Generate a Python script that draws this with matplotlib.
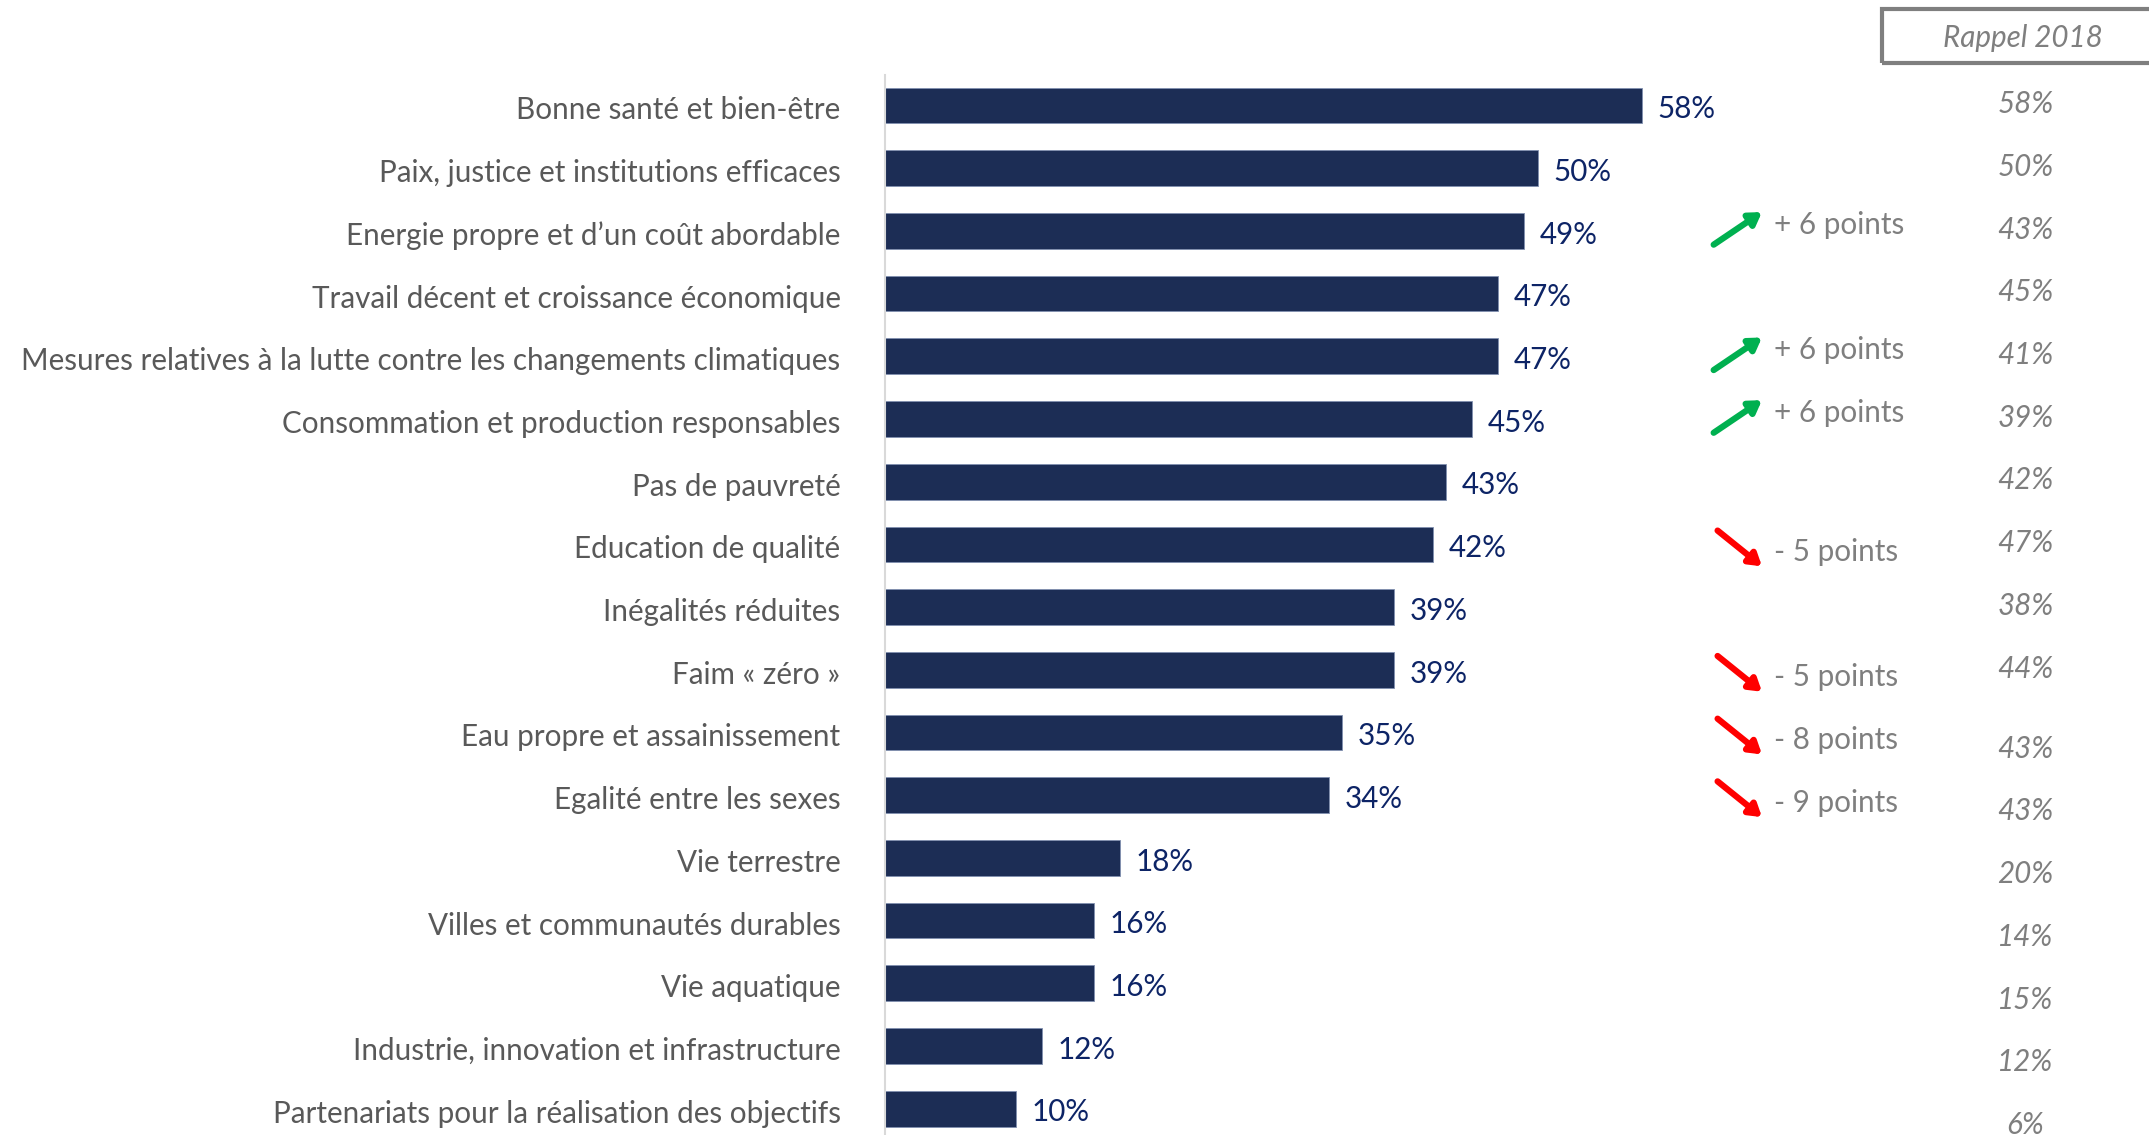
import matplotlib.pyplot as plt
from matplotlib.patches import Rectangle

plt.rcParams['font.family'] = ['Lato', 'DejaVu Sans']

categories = [
    "Bonne santé et bien-être",
    "Paix, justice et institutions efficaces",
    "Energie propre et d\u2019un coût abordable",
    "Travail décent et croissance économique",
    "Mesures relatives à la lutte contre les changements climatiques",
    "Consommation et production responsables",
    "Pas de pauvreté",
    "Education de qualité",
    "Inégalités réduites",
    "Faim « zéro »",
    "Eau propre et assainissement",
    "Egalité entre les sexes",
    "Vie terrestre",
    "Villes et communautés durables",
    "Vie aquatique",
    "Industrie, innovation et infrastructure",
    "Partenariats pour la réalisation des objectifs",
]
values_2019 = [58, 50, 49, 47, 47, 45, 43, 42, 39, 39, 35, 34, 18, 16, 16, 12, 10]
values_2018 = [58, 50, 43, 45, 41, 39, 42, 47, 38, 44, 43, 43, 20, 14, 15, 12, 6]
changes = [None, None, 6, None, 6, 6, None, -5, None, -5, -8, -9,
           None, None, None, None, None]

bar_color = '#1c2d55'
label_gray = '#595959'
note_gray = '#7f7f7f'
value_blue = '#0d2466'
fs = 21.3

W, H = 2149, 1135
fig = plt.figure(figsize=(W / 100, H / 100), dpi=100)
ax = fig.add_axes([885 / W, 0, 1 - 885 / W, 1 - 75 / H])

px_per_pct = 13.05
ax.set_xlim(0, (W - 885) / px_per_pct)
ax.set_ylim(16.42, -0.486)

rows = list(range(len(categories)))
ax.barh(rows, values_2019, height=0.57, color=bar_color,
        edgecolor='#8090b0', linewidth=0.6)

for i, v in enumerate(values_2019):
    ax.text(v + 1.2, i + 0.06, f"{v}%", va='center', ha='left',
            fontsize=fs, color=value_blue)

ax.set_yticks([r + 0.04 for r in rows])
ax.set_yticklabels(categories, fontsize=fs, color=label_gray)
ax.tick_params(axis='y', length=0, pad=32)
ax.set_xticks([])
for s in ['top', 'right', 'bottom']:
    ax.spines[s].set_visible(False)
ax.spines['left'].set_color('#d9d9d9')
ax.spines['left'].set_linewidth(1.5)

# Rappel 2018 column
for i, v in enumerate(values_2018):
    y = i - 0.02 if i < 10 else i + 0.26
    ax.text(87.4, y, f"{v}%", va='center', ha='center', fontsize=fs,
            style='italic', color=note_gray)

# change arrows
for i, c in enumerate(changes):
    if c is None:
        continue
    if c > 0:
        col = '#00b050'
        x0, tail, head = 63.5, i + 0.22, i - 0.3
        ty = i - 0.1
        txt = f"+ {c} points"
    else:
        col = '#ff0000'
        x0, tail, head = 63.8, i - 0.22, i + 0.35
        ty = i + 0.12
        txt = f"- {abs(c)} points"
    ax.annotate('', xy=(67.2, head), xytext=(x0, tail),
                arrowprops=dict(arrowstyle='-|>,head_length=0.35,head_width=0.22',
                                lw=4.5, color=col, shrinkA=0, shrinkB=0,
                                mutation_scale=20))
    ax.text(68.1, ty, txt, va='center', ha='left', fontsize=fs, color=note_gray)

fig.patches.append(Rectangle((1882 / W, 1 - 63 / H), (W - 1882) / W + 0.01, 54 / H,
                             transform=fig.transFigure, fill=False,
                             edgecolor=note_gray, linewidth=3))
fig.text(2023 / W, 1 - 38 / H, "Rappel 2018", ha='center', va='center',
         fontsize=fs, style='italic', color=note_gray)

fig.savefig('out.png', dpi=100)
